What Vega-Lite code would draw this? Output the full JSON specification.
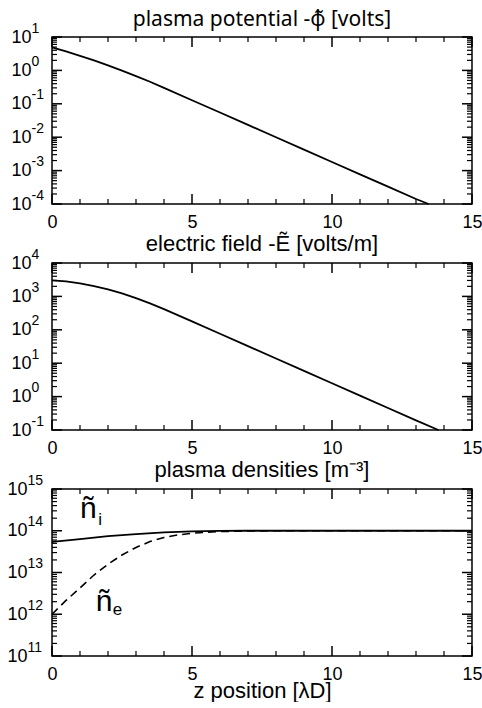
{
  "$schema": "https://vega.github.io/schema/vega-lite/v6.json",
  "padding": {"left": 6, "top": 8, "right": 0, "bottom": 0},
  "spacing": 0,
  "datasets": {
    "phi": [
      {"z": 0, "v": 4.9}, {"z": 0.5, "v": 3.7}, {"z": 1, "v": 2.74}, {"z": 1.5, "v": 1.99},
      {"z": 2, "v": 1.42}, {"z": 2.5, "v": 0.989}, {"z": 3, "v": 0.678}, {"z": 3.5, "v": 0.456},
      {"z": 4, "v": 0.301}, {"z": 5, "v": 0.128}, {"z": 6, "v": 0.0547}, {"z": 7, "v": 0.0233},
      {"z": 8, "v": 0.00995}, {"z": 9, "v": 0.00425}, {"z": 10, "v": 0.00181}, {"z": 11, "v": 0.000773},
      {"z": 12, "v": 0.00033}, {"z": 13, "v": 0.000141}, {"z": 13.45, "v": 0.0001}
    ],
    "efield": [
      {"z": 0, "v": 3020}, {"z": 0.5, "v": 2820}, {"z": 1, "v": 2450}, {"z": 1.5, "v": 2040},
      {"z": 2, "v": 1620}, {"z": 2.5, "v": 1230}, {"z": 3, "v": 891}, {"z": 3.5, "v": 617},
      {"z": 4, "v": 417}, {"z": 5, "v": 178}, {"z": 6, "v": 75.9}, {"z": 7, "v": 32.4},
      {"z": 8, "v": 13.8}, {"z": 9, "v": 5.89}, {"z": 10, "v": 2.51}, {"z": 11, "v": 1.07},
      {"z": 12, "v": 0.457}, {"z": 13, "v": 0.195}, {"z": 13.8, "v": 0.1}
    ],
    "dens": [
      {"z": 0, "v": 5.4e13, "s": "ni"}, {"z": 1, "v": 6.3e13, "s": "ni"}, {"z": 2, "v": 7.4e13, "s": "ni"},
      {"z": 3, "v": 8.3e13, "s": "ni"}, {"z": 4, "v": 9.1e13, "s": "ni"}, {"z": 5, "v": 9.66e13, "s": "ni"},
      {"z": 6, "v": 9.9e13, "s": "ni"}, {"z": 7, "v": 1e14, "s": "ni"}, {"z": 15, "v": 1e14, "s": "ni"},
      {"z": 0, "v": 1.0e12, "s": "ne"}, {"z": 0.5, "v": 2.14e12, "s": "ne"}, {"z": 1, "v": 4.27e12, "s": "ne"},
      {"z": 1.5, "v": 8.71e12, "s": "ne"}, {"z": 2, "v": 1.58e13, "s": "ne"}, {"z": 2.5, "v": 2.63e13, "s": "ne"},
      {"z": 3, "v": 3.98e13, "s": "ne"}, {"z": 3.5, "v": 5.5e13, "s": "ne"}, {"z": 4, "v": 6.92e13, "s": "ne"},
      {"z": 4.5, "v": 7.94e13, "s": "ne"}, {"z": 5, "v": 8.71e13, "s": "ne"}, {"z": 5.5, "v": 9.23e13, "s": "ne"},
      {"z": 6, "v": 9.55e13, "s": "ne"}, {"z": 7, "v": 9.89e13, "s": "ne"}, {"z": 8, "v": 1e14, "s": "ne"},
      {"z": 15, "v": 1e14, "s": "ne"}
    ],
    "bigLabels": [
      {"z": 1.3, "v": 3.24e14, "t": "ñ"},
      {"z": 1.86, "v": 1.95e12, "t": "ñ"}
    ],
    "subLabels": [
      {"z": 1.72, "v": 1.8e14, "t": "i"},
      {"z": 2.34, "v": 1.25e12, "t": "e"}
    ],
    "xM": [{"t": 0}, {"t": 5}, {"t": 10}, {"t": 15}],
    "xm": [{"t": 1}, {"t": 2}, {"t": 3}, {"t": 4}, {"t": 6}, {"t": 7}, {"t": 8}, {"t": 9}, {"t": 11}, {"t": 12}, {"t": 13}, {"t": 14}],
    "y1M": [{"t": 0.0001}, {"t": 0.001}, {"t": 0.01}, {"t": 0.1}, {"t": 1}, {"t": 10}],
    "y1m": [
      {"t": 0.0002}, {"t": 0.0003}, {"t": 0.0004}, {"t": 0.0005}, {"t": 0.0006}, {"t": 0.0007}, {"t": 0.0008}, {"t": 0.0009},
      {"t": 0.002}, {"t": 0.003}, {"t": 0.004}, {"t": 0.005}, {"t": 0.006}, {"t": 0.007}, {"t": 0.008}, {"t": 0.009},
      {"t": 0.02}, {"t": 0.03}, {"t": 0.04}, {"t": 0.05}, {"t": 0.06}, {"t": 0.07}, {"t": 0.08}, {"t": 0.09},
      {"t": 0.2}, {"t": 0.3}, {"t": 0.4}, {"t": 0.5}, {"t": 0.6}, {"t": 0.7}, {"t": 0.8}, {"t": 0.9},
      {"t": 2}, {"t": 3}, {"t": 4}, {"t": 5}, {"t": 6}, {"t": 7}, {"t": 8}, {"t": 9}
    ],
    "y2M": [{"t": 0.1}, {"t": 1}, {"t": 10}, {"t": 100}, {"t": 1000}, {"t": 10000}],
    "y2m": [
      {"t": 0.2}, {"t": 0.3}, {"t": 0.4}, {"t": 0.5}, {"t": 0.6}, {"t": 0.7}, {"t": 0.8}, {"t": 0.9},
      {"t": 2}, {"t": 3}, {"t": 4}, {"t": 5}, {"t": 6}, {"t": 7}, {"t": 8}, {"t": 9},
      {"t": 20}, {"t": 30}, {"t": 40}, {"t": 50}, {"t": 60}, {"t": 70}, {"t": 80}, {"t": 90},
      {"t": 200}, {"t": 300}, {"t": 400}, {"t": 500}, {"t": 600}, {"t": 700}, {"t": 800}, {"t": 900},
      {"t": 2000}, {"t": 3000}, {"t": 4000}, {"t": 5000}, {"t": 6000}, {"t": 7000}, {"t": 8000}, {"t": 9000}
    ],
    "y3M": [{"t": 1e11}, {"t": 1e12}, {"t": 1e13}, {"t": 1e14}, {"t": 1e15}],
    "y3m": [
      {"t": 2e11}, {"t": 3e11}, {"t": 4e11}, {"t": 5e11}, {"t": 6e11}, {"t": 7e11}, {"t": 8e11}, {"t": 9e11},
      {"t": 2e12}, {"t": 3e12}, {"t": 4e12}, {"t": 5e12}, {"t": 6e12}, {"t": 7e12}, {"t": 8e12}, {"t": 9e12},
      {"t": 2e13}, {"t": 3e13}, {"t": 4e13}, {"t": 5e13}, {"t": 6e13}, {"t": 7e13}, {"t": 8e13}, {"t": 9e13},
      {"t": 2e14}, {"t": 3e14}, {"t": 4e14}, {"t": 5e14}, {"t": 6e14}, {"t": 7e14}, {"t": 8e14}, {"t": 9e14}
    ]
  },
  "vconcat": [
    {
      "title": {"text": "plasma potential -φ̃ [volts]", "font": "Noto Sans", "fontSize": 21},
      "width": 420,
      "height": 167,
      "layer": [
        {
          "data": {"name": "phi"},
          "mark": {"type": "line", "color": "black", "strokeWidth": 1.8},
          "encoding": {
            "x": {"field": "z", "type": "quantitative",
              "scale": {"domain": [0, 15], "nice": false, "zero": false},
              "axis": {"orient": "bottom", "title": null, "values": [0, 5, 10, 15], "labelPadding": 9}},
            "y": {"field": "v", "type": "quantitative",
              "scale": {"type": "log", "domain": [0.0001, 10], "nice": false},
              "axis": {"orient": "left", "title": null, "values": [0.0001, 0.001, 0.01, 0.1, 1, 10],
                "labelExpr": "'10'", "labelAlign": "left", "labelBaseline": "middle", "labelPadding": 41}}
          }
        },
        {
          "data": {"name": "xM"},
          "mark": {"type": "tick", "orient": "vertical", "size": 10, "thickness": 1.5, "color": "black", "opacity": 1, "yOffset": -5},
          "encoding": {
            "x": {"field": "t", "type": "quantitative", "axis": null},
            "y": {"datum": 0.0001, "type": "quantitative", "axis": null}
          }
        },
        {
          "data": {"name": "xm"},
          "mark": {"type": "tick", "orient": "vertical", "size": 5, "thickness": 1.2, "color": "black", "opacity": 1, "yOffset": -2.5},
          "encoding": {
            "x": {"field": "t", "type": "quantitative", "axis": null},
            "y": {"datum": 0.0001, "type": "quantitative", "axis": null}
          }
        },
        {
          "data": {"name": "xM"},
          "mark": {"type": "tick", "orient": "vertical", "size": 10, "thickness": 1.5, "color": "black", "opacity": 1, "yOffset": 5},
          "encoding": {
            "x": {"field": "t", "type": "quantitative", "axis": null},
            "y": {"datum": 10, "type": "quantitative", "axis": null}
          }
        },
        {
          "data": {"name": "xm"},
          "mark": {"type": "tick", "orient": "vertical", "size": 5, "thickness": 1.2, "color": "black", "opacity": 1, "yOffset": 2.5},
          "encoding": {
            "x": {"field": "t", "type": "quantitative", "axis": null},
            "y": {"datum": 10, "type": "quantitative", "axis": null}
          }
        },
        {
          "data": {"name": "y1M"},
          "mark": {"type": "tick", "orient": "horizontal", "size": 10, "thickness": 1.5, "color": "black", "opacity": 1, "xOffset": 5},
          "encoding": {
            "y": {"field": "t", "type": "quantitative",
              "axis": {"orient": "left", "title": null, "values": [0.0001, 0.001, 0.01, 0.1, 1, 10],
                "labelExpr": "'' + round(log(datum.value)/LN10)", "labelAlign": "left", "labelBaseline": "middle",
                "labelPadding": 21, "labelOffset": -9, "labelFontSize": 14}},
            "x": {"datum": 0, "type": "quantitative", "axis": null}
          }
        },
        {
          "data": {"name": "y1m"},
          "mark": {"type": "tick", "orient": "horizontal", "size": 5, "thickness": 1.2, "color": "black", "opacity": 1, "xOffset": 2.5},
          "encoding": {
            "y": {"field": "t", "type": "quantitative", "axis": null},
            "x": {"datum": 0, "type": "quantitative", "axis": null}
          }
        },
        {
          "data": {"name": "y1M"},
          "mark": {"type": "tick", "orient": "horizontal", "size": 10, "thickness": 1.5, "color": "black", "opacity": 1, "xOffset": -5},
          "encoding": {
            "y": {"field": "t", "type": "quantitative", "axis": null},
            "x": {"datum": 15, "type": "quantitative", "axis": null}
          }
        },
        {
          "data": {"name": "y1m"},
          "mark": {"type": "tick", "orient": "horizontal", "size": 5, "thickness": 1.2, "color": "black", "opacity": 1, "xOffset": -2.5},
          "encoding": {
            "y": {"field": "t", "type": "quantitative", "axis": null},
            "x": {"datum": 15, "type": "quantitative", "axis": null}
          }
        }
      ],
      "resolve": {"axis": {"x": "independent", "y": "independent"}}
    },
    {
      "title": "electric field -Ẽ [volts/m]",
      "width": 420,
      "height": 167,
      "layer": [
        {
          "data": {"name": "efield"},
          "mark": {"type": "line", "color": "black", "strokeWidth": 1.8},
          "encoding": {
            "x": {"field": "z", "type": "quantitative",
              "scale": {"domain": [0, 15], "nice": false, "zero": false},
              "axis": {"orient": "bottom", "title": null, "values": [0, 5, 10, 15], "labelPadding": 9}},
            "y": {"field": "v", "type": "quantitative",
              "scale": {"type": "log", "domain": [0.1, 10000], "nice": false},
              "axis": {"orient": "left", "title": null, "values": [0.1, 1, 10, 100, 1000, 10000],
                "labelExpr": "'10'", "labelAlign": "left", "labelBaseline": "middle", "labelPadding": 41}}
          }
        },
        {
          "data": {"name": "xM"},
          "mark": {"type": "tick", "orient": "vertical", "size": 10, "thickness": 1.5, "color": "black", "opacity": 1, "yOffset": -5},
          "encoding": {
            "x": {"field": "t", "type": "quantitative", "axis": null},
            "y": {"datum": 0.1, "type": "quantitative", "axis": null}
          }
        },
        {
          "data": {"name": "xm"},
          "mark": {"type": "tick", "orient": "vertical", "size": 5, "thickness": 1.2, "color": "black", "opacity": 1, "yOffset": -2.5},
          "encoding": {
            "x": {"field": "t", "type": "quantitative", "axis": null},
            "y": {"datum": 0.1, "type": "quantitative", "axis": null}
          }
        },
        {
          "data": {"name": "xM"},
          "mark": {"type": "tick", "orient": "vertical", "size": 10, "thickness": 1.5, "color": "black", "opacity": 1, "yOffset": 5},
          "encoding": {
            "x": {"field": "t", "type": "quantitative", "axis": null},
            "y": {"datum": 10000, "type": "quantitative", "axis": null}
          }
        },
        {
          "data": {"name": "xm"},
          "mark": {"type": "tick", "orient": "vertical", "size": 5, "thickness": 1.2, "color": "black", "opacity": 1, "yOffset": 2.5},
          "encoding": {
            "x": {"field": "t", "type": "quantitative", "axis": null},
            "y": {"datum": 10000, "type": "quantitative", "axis": null}
          }
        },
        {
          "data": {"name": "y2M"},
          "mark": {"type": "tick", "orient": "horizontal", "size": 10, "thickness": 1.5, "color": "black", "opacity": 1, "xOffset": 5},
          "encoding": {
            "y": {"field": "t", "type": "quantitative",
              "axis": {"orient": "left", "title": null, "values": [0.1, 1, 10, 100, 1000, 10000],
                "labelExpr": "'' + round(log(datum.value)/LN10)", "labelAlign": "left", "labelBaseline": "middle",
                "labelPadding": 21, "labelOffset": -9, "labelFontSize": 14}},
            "x": {"datum": 0, "type": "quantitative", "axis": null}
          }
        },
        {
          "data": {"name": "y2m"},
          "mark": {"type": "tick", "orient": "horizontal", "size": 5, "thickness": 1.2, "color": "black", "opacity": 1, "xOffset": 2.5},
          "encoding": {
            "y": {"field": "t", "type": "quantitative", "axis": null},
            "x": {"datum": 0, "type": "quantitative", "axis": null}
          }
        },
        {
          "data": {"name": "y2M"},
          "mark": {"type": "tick", "orient": "horizontal", "size": 10, "thickness": 1.5, "color": "black", "opacity": 1, "xOffset": -5},
          "encoding": {
            "y": {"field": "t", "type": "quantitative", "axis": null},
            "x": {"datum": 15, "type": "quantitative", "axis": null}
          }
        },
        {
          "data": {"name": "y2m"},
          "mark": {"type": "tick", "orient": "horizontal", "size": 5, "thickness": 1.2, "color": "black", "opacity": 1, "xOffset": -2.5},
          "encoding": {
            "y": {"field": "t", "type": "quantitative", "axis": null},
            "x": {"datum": 15, "type": "quantitative", "axis": null}
          }
        }
      ],
      "resolve": {"axis": {"x": "independent", "y": "independent"}}
    },
    {
      "title": "plasma densities [m⁻³]",
      "width": 420,
      "height": 167,
      "layer": [
        {
          "data": {"name": "dens"},
          "transform": [{"filter": "datum.s === 'ni'"}],
          "mark": {"type": "line", "color": "black", "strokeWidth": 1.8},
          "encoding": {
            "x": {"field": "z", "type": "quantitative",
              "scale": {"domain": [0, 15], "nice": false, "zero": false},
              "axis": {"orient": "bottom", "title": "z position [λD]", "titlePadding": -3, "values": [0, 5, 10, 15], "labelPadding": 9}},
            "y": {"field": "v", "type": "quantitative",
              "scale": {"type": "log", "domain": [1e11, 1e15], "nice": false},
              "axis": {"orient": "left", "title": null, "values": [1e11, 1e12, 1e13, 1e14, 1e15],
                "labelExpr": "'10'", "labelAlign": "left", "labelBaseline": "middle", "labelPadding": 45}}
          }
        },
        {
          "data": {"name": "dens"},
          "transform": [{"filter": "datum.s === 'ne'"}],
          "mark": {"type": "line", "color": "black", "strokeWidth": 1.6, "strokeDash": [8, 5]},
          "encoding": {
            "x": {"field": "z", "type": "quantitative", "axis": null},
            "y": {"field": "v", "type": "quantitative", "axis": null}
          }
        },
        {
          "data": {"name": "xM"},
          "mark": {"type": "tick", "orient": "vertical", "size": 10, "thickness": 1.5, "color": "black", "opacity": 1, "yOffset": -5},
          "encoding": {
            "x": {"field": "t", "type": "quantitative", "axis": null},
            "y": {"datum": 1e11, "type": "quantitative", "axis": null}
          }
        },
        {
          "data": {"name": "xm"},
          "mark": {"type": "tick", "orient": "vertical", "size": 5, "thickness": 1.2, "color": "black", "opacity": 1, "yOffset": -2.5},
          "encoding": {
            "x": {"field": "t", "type": "quantitative", "axis": null},
            "y": {"datum": 1e11, "type": "quantitative", "axis": null}
          }
        },
        {
          "data": {"name": "xM"},
          "mark": {"type": "tick", "orient": "vertical", "size": 10, "thickness": 1.5, "color": "black", "opacity": 1, "yOffset": 5},
          "encoding": {
            "x": {"field": "t", "type": "quantitative", "axis": null},
            "y": {"datum": 1e15, "type": "quantitative", "axis": null}
          }
        },
        {
          "data": {"name": "xm"},
          "mark": {"type": "tick", "orient": "vertical", "size": 5, "thickness": 1.2, "color": "black", "opacity": 1, "yOffset": 2.5},
          "encoding": {
            "x": {"field": "t", "type": "quantitative", "axis": null},
            "y": {"datum": 1e15, "type": "quantitative", "axis": null}
          }
        },
        {
          "data": {"name": "y3M"},
          "mark": {"type": "tick", "orient": "horizontal", "size": 10, "thickness": 1.5, "color": "black", "opacity": 1, "xOffset": 5},
          "encoding": {
            "y": {"field": "t", "type": "quantitative",
              "axis": {"orient": "left", "title": null, "values": [1e11, 1e12, 1e13, 1e14, 1e15],
                "labelExpr": "'' + round(log(datum.value)/LN10)", "labelAlign": "left", "labelBaseline": "middle",
                "labelPadding": 25, "labelOffset": -9, "labelFontSize": 14}},
            "x": {"datum": 0, "type": "quantitative", "axis": null}
          }
        },
        {
          "data": {"name": "y3m"},
          "mark": {"type": "tick", "orient": "horizontal", "size": 5, "thickness": 1.2, "color": "black", "opacity": 1, "xOffset": 2.5},
          "encoding": {
            "y": {"field": "t", "type": "quantitative", "axis": null},
            "x": {"datum": 0, "type": "quantitative", "axis": null}
          }
        },
        {
          "data": {"name": "y3M"},
          "mark": {"type": "tick", "orient": "horizontal", "size": 10, "thickness": 1.5, "color": "black", "opacity": 1, "xOffset": -5},
          "encoding": {
            "y": {"field": "t", "type": "quantitative", "axis": null},
            "x": {"datum": 15, "type": "quantitative", "axis": null}
          }
        },
        {
          "data": {"name": "y3m"},
          "mark": {"type": "tick", "orient": "horizontal", "size": 5, "thickness": 1.2, "color": "black", "opacity": 1, "xOffset": -2.5},
          "encoding": {
            "y": {"field": "t", "type": "quantitative", "axis": null},
            "x": {"datum": 15, "type": "quantitative", "axis": null}
          }
        },
        {
          "data": {"name": "bigLabels"},
          "mark": {"type": "text", "fontSize": 30, "font": "Liberation Sans", "align": "center", "baseline": "middle", "color": "black"},
          "encoding": {
            "x": {"field": "z", "type": "quantitative", "axis": null},
            "y": {"field": "v", "type": "quantitative", "axis": null},
            "text": {"field": "t"}
          }
        },
        {
          "data": {"name": "subLabels"},
          "mark": {"type": "text", "fontSize": 17, "font": "Liberation Sans", "align": "center", "baseline": "middle", "color": "black"},
          "encoding": {
            "x": {"field": "z", "type": "quantitative", "axis": null},
            "y": {"field": "v", "type": "quantitative", "axis": null},
            "text": {"field": "t"}
          }
        }
      ],
      "resolve": {"axis": {"x": "independent", "y": "independent"}}
    }
  ],
  "config": {
    "font": "Liberation Sans",
    "view": {"stroke": "black", "strokeWidth": 1.5},
    "axis": {"domain": false, "grid": false, "ticks": false,
      "labelColor": "black", "labelFont": "Liberation Sans", "labelFontSize": 18,
      "labelOverlap": false, "labelBound": false, "labelFlush": false,
      "titleFont": "Liberation Sans", "titleFontSize": 22, "titleFontWeight": "normal", "titleColor": "black"},
    "title": {"font": "Liberation Sans", "fontSize": 22, "fontWeight": "normal", "color": "black", "offset": -9, "anchor": "middle"}
  }
}
